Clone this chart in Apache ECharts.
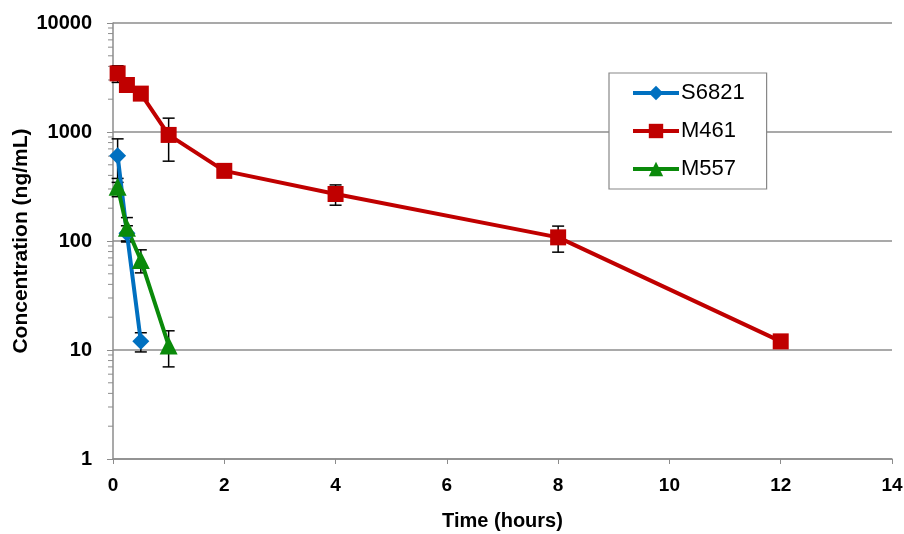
<!DOCTYPE html>
<html>
<head>
<meta charset="utf-8">
<script src="https://cdn.jsdelivr.net/npm/echarts@6/dist/echarts.min.js"></script>
<style>
  html, body { margin: 0; padding: 0; background: #fff; }
  #chart { width: 904px; height: 534px; }
</style>
</head>
<body>
<div id="chart"></div>
<script>
// sampling times (hours)
var timesS6821 = [0.083, 0.25, 0.5];
var timesM461 = [0.083, 0.25, 0.5, 1, 2, 4, 8, 12];
var timesM557 = [0.083, 0.25, 0.5, 1];

// mean concentrations (ng/mL)
var concS6821 = [605, 118, 12];
var concM461 = [3450, 2700, 2250, 940, 440, 270, 108, 12];
var concM557 = [315, 132, 67, 11];

// error bar half-heights (ng/mL)
var errS6821 = [260, 20, 2.4];
var errM461 = [600, 300, 250, 400, 25, 57, 29, 1];
var errM557 = [60, 32, 16, 4];

var xTicks = [0, 2, 4, 6, 8, 10, 12, 14];
var yDecades = [1, 10, 100, 1000, 10000];

var colBlue = '#0070C0', colRed = '#C00000', colGreen = '#0A8A0A';
var gridGrey = '#8c8c8c';

function pairs(xs, ys) {
    var out = [];
    for (var i = 0; i < xs.length; i++) out.push([xs[i], ys[i]]);
    return out;
}
function errPairs(xs, ys, es) {
    var out = [];
    for (var i = 0; i < xs.length; i++) out.push([xs[i], ys[i], es[i]]);
    return out;
}

// log-spaced minor ticks on the y axis
var minorVals = [];
for (var d = 0; d < yDecades.length - 1; d++) {
    for (var k = 2; k <= 9; k++) minorVals.push([0, yDecades[d] * k]);
}

function renderErr(params, api) {
    var x = api.value(0), y = api.value(1), e = api.value(2);
    var top = api.coord([x, y + e]);
    var bot = api.coord([x, Math.max(y - e, 1)]);
    var style = { stroke: '#000', lineWidth: 1.5 };
    return {
        type: 'group',
        children: [
            { type: 'line', shape: { x1: top[0], y1: top[1], x2: bot[0], y2: bot[1] }, style: style },
            { type: 'line', shape: { x1: top[0] - 6, y1: top[1], x2: top[0] + 6, y2: top[1] }, style: style },
            { type: 'line', shape: { x1: bot[0] - 6, y1: bot[1], x2: bot[0] + 6, y2: bot[1] }, style: style }
        ]
    };
}

function renderMinor(params, api) {
    var p = api.coord([api.value(0), api.value(1)]);
    return {
        type: 'line',
        shape: { x1: p[0] - 5, y1: p[1], x2: p[0], y2: p[1] },
        style: { stroke: gridGrey, lineWidth: 1 }
    };
}

var chart = echarts.init(document.getElementById('chart'));
var option = {
    animation: false,
    backgroundColor: '#fff',
    textStyle: { fontFamily: 'Liberation Sans, Arial, sans-serif' },
    grid: { left: 113, right: 12, top: 23, bottom: 75, containLabel: false, outerBoundsMode: 'none' },
    legend: {
        data: ['S6821', 'M461', 'M557'],
        orient: 'vertical',
        left: 609,
        top: 73,
        padding: [9, 22, 9, 22],
        itemWidth: 46,
        itemHeight: 18,
        itemGap: 16,
        borderColor: '#888',
        borderWidth: 1.2,
        backgroundColor: '#fff',
        lineStyle: { width: 4 },
        textStyle: { fontSize: 22, color: '#000', fontFamily: 'Liberation Sans, Arial, sans-serif', padding: [0, 0, 0, -3] }
    },
    xAxis: {
        type: 'value',
        min: 0,
        max: 14,
        interval: 2,
        name: 'Time (hours)',
        nameLocation: 'middle',
        nameGap: 52,
        nameTextStyle: { fontSize: 20, fontWeight: 'bold', color: '#000' },
        axisLine: { lineStyle: { color: gridGrey, width: 1.5 } },
        axisTick: { show: true, length: 5, inside: false, lineStyle: { color: gridGrey } },
        axisLabel: { fontSize: 19, fontWeight: 'bold', color: '#000', margin: 17 },
        splitLine: { show: false }
    },
    yAxis: {
        type: 'log',
        logBase: 10,
        min: 1,
        max: 10000,
        name: 'Concentration (ng/mL)',
        nameLocation: 'middle',
        nameGap: 81,
        nameMoveOverlap: false,
        nameTextStyle: { fontSize: 21, fontWeight: 'bold', color: '#000' },
        axisLine: { show: true, lineStyle: { color: gridGrey, width: 1.5 } },
        axisTick: { show: true, length: 6, lineStyle: { color: gridGrey } },
        axisLabel: {
            fontSize: 20, fontWeight: 'bold', color: '#000', margin: 21,
            formatter: function (v) { return String(Math.round(v)); }
        },
        splitLine: { show: true, lineStyle: { color: gridGrey, width: 1.5 } }
    },
    series: [
        {
            type: 'custom', name: 'minor', renderItem: renderMinor, data: minorVals,
            clip: false, silent: true, z: 1
        },
        {
            type: 'custom', name: 'errS6821', renderItem: renderErr,
            data: errPairs(timesS6821, concS6821, errS6821), z: 2, silent: true
        },
        {
            type: 'custom', name: 'errM461', renderItem: renderErr,
            data: errPairs(timesM461, concM461, errM461), z: 2, silent: true
        },
        {
            type: 'custom', name: 'errM557', renderItem: renderErr,
            data: errPairs(timesM557, concM557, errM557), z: 2, silent: true
        },
        {
            name: 'S6821', type: 'line', data: pairs(timesS6821, concS6821),
            symbol: 'diamond', symbolSize: 17, color: colBlue,
            lineStyle: { width: 4, color: colBlue }, itemStyle: { color: colBlue }, z: 3
        },
        {
            name: 'M461', type: 'line', data: pairs(timesM461, concM461),
            symbol: 'rect', symbolSize: 16, color: colRed,
            lineStyle: { width: 4, color: colRed }, itemStyle: { color: colRed }, z: 3
        },
        {
            name: 'M557', type: 'line', data: pairs(timesM557, concM557),
            symbol: 'triangle', symbolSize: 18, color: colGreen,
            lineStyle: { width: 4, color: colGreen }, itemStyle: { color: colGreen }, z: 3
        }
    ]
};
chart.setOption(option);
</script>
</body>
</html>
